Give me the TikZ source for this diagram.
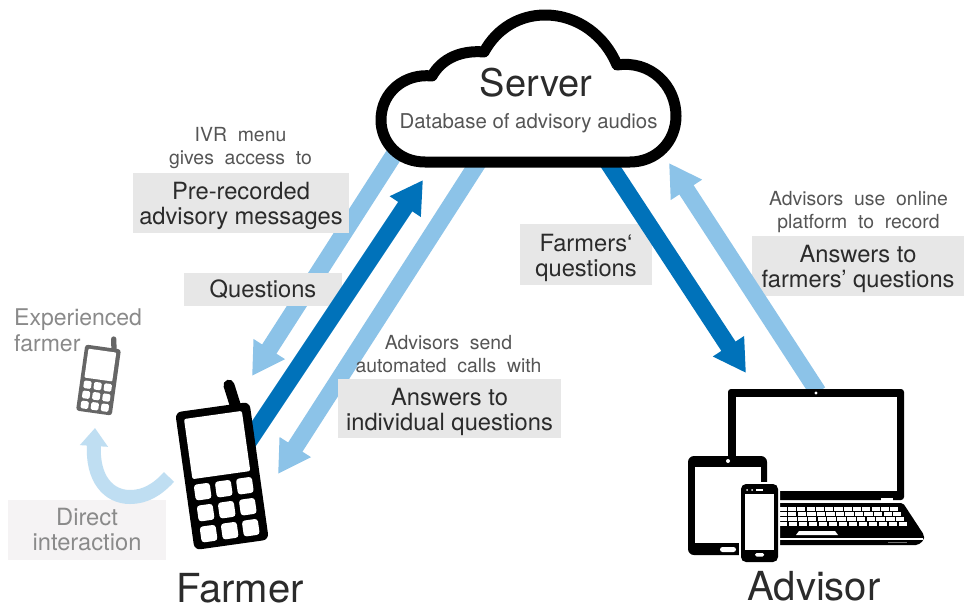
\documentclass[tikz,border=0pt]{standalone}
\usepackage{fontspec}
\setmainfont{TeX Gyre Heros}
\newfontfamily\spaced[WordSpace=2]{TeX Gyre Heros}
\usetikzlibrary{arrows.meta}
\definecolor{lightblue}{HTML}{8CC3E8}
\definecolor{darkblue}{HTML}{0072BA}
\definecolor{paleblue}{HTML}{BFDEF2}
\definecolor{boxgray}{HTML}{E7E7E7}
\definecolor{paleboxgray}{HTML}{F5F3F4}
\definecolor{txtdark}{HTML}{2B2B2B}
\definecolor{txtmid}{HTML}{555555}
\definecolor{txtpale}{HTML}{8A8A8A}
\tikzset{
  x=1pt,y=-1pt,
  flowlight/.style={line width=17pt,lightblue,-{Triangle[length=32pt,width=35pt]}},
  flowdark/.style={line width=17pt,darkblue,-{Triangle[length=32pt,width=35pt]}},
  graybox/.style={fill=boxgray,inner sep=0pt,align=center,text=txtdark,font=\fontsize{23.7}{25}\selectfont},
  smalltext/.style={inner sep=0pt,align=center,text=txtmid,font=\spaced\fontsize{19.4}{23}\selectfont},
  bigtext/.style={inner sep=0pt,text=txtdark,font=\fontsize{40}{44}\selectfont},
}
\newcommand{\lowerline}{\rule{0pt}{24pt}}
% centre x, centre y, rotation, scale, colour
\newcommand{\handset}[5]{%
  \begin{scope}[shift={(#1,#2)},rotate=#3,scale=#4]
    \draw[#5,line width=#4*11pt,line cap=round] (19.5,-89) -- (24,-62);
    \fill[#5,rounded corners=#4*6pt] (-37.5,-69.5) rectangle (37.5,69.5);
    \fill[white,rounded corners=#4*2pt] (-29.7,-61.7) rectangle (28.7,-1);
    \foreach \kx in {-21.3,0,21.3}
      \foreach \ky in {12.8,34,55.2}
        \fill[white,rounded corners=#4*3pt] (\kx-8,\ky-8) rectangle (\kx+8,\ky+8);
  \end{scope}}
\begin{document}
\begin{tikzpicture}
\useasboundingbox (0,0) rectangle (964,605);
\fill[white] (0,0) rectangle (964,605);

% connector ends
\coordinate (a1s) at (397,150);  \coordinate (a1e) at (252,376);
\coordinate (a2s) at (245,447);  \coordinate (a2e) at (423,180);
\coordinate (a3s) at (481,158);  \coordinate (a3e) at (278,474);
\coordinate (a4s) at (605,158);  \coordinate (a4e) at (746,373);
\coordinate (a5s) at (818,392);  \coordinate (a5e) at (669,163);
\coordinate (a6s) at (169,477);  \coordinate (a6e) at (95,428);

\draw[flowlight] (a1s) -- (a1e);
\draw[flowlight] (a3s) -- (a3e);

% grey boxes
\node[graybox,minimum width=216pt,minimum height=60pt] (prerec) at (241,203) {\lowerline Pre-recorded\\advisory messages};
\node[graybox,minimum width=158pt,minimum height=33pt] (quest) at (263,289.5) {Questions};
\node[graybox,minimum width=223pt,minimum height=59pt] (indiv) at (449.5,408.5) {\lowerline Answers to\\individual questions};
\node[graybox,minimum width=132pt,minimum height=61pt] (farmq) at (586,254.5) {\lowerline Farmers‘\\questions};
\node[graybox,minimum width=212pt,minimum height=60pt] (ansf) at (858,266) {\lowerline Answers to\\farmers’ questions};
\node[fill=paleboxgray,inner sep=0pt,align=center,text=txtpale,minimum width=158pt,minimum height=60pt,font=\fontsize{23.7}{25}\selectfont] (direct) at (87,530) {Direct\\interaction};

\draw[flowdark] (a2s) -- (a2e);
\draw[flowdark] (a4s) -- (a4e);
\draw[flowlight] (a5s) -- (a5e);
\draw[paleblue,line width=14pt,-{Triangle[length=18pt,width=27pt]}]
  (a6s) .. controls (157,490) and (145,497) .. (130,497)
  .. controls (108,497) and (92,478) .. (a6e);

% cloud
\draw[black,fill=white,line width=11pt,line join=round]
  (425,162) .. controls (398,162) and (381,142) .. (381,120)
  .. controls (381,92) and (405,73) .. (432,76)
  .. controls (442,58) and (462,50) .. (484,52)
  .. controls (497,28) and (520,15) .. (545,15)
  .. controls (578,15) and (605,36) .. (617,65)
  .. controls (650,60) and (676,85) .. (676,116)
  .. controls (676,142) and (656,162) .. (630,162)
  -- cycle;
\node[inner sep=0pt,text=txtdark,font=\fontsize{38}{42}\selectfont] (server) at (536,83) {Server};
\node[inner sep=0pt,text=txtmid,font=\fontsize{20.4}{24}\selectfont] (db) at (528.5,123) {Database of advisory audios};

% small captions
\node[smalltext] (ivr) at (240.5,148) {IVR menu\\gives access to};
\node[smalltext] (send) at (448.5,354) {Advisors send\\automated calls with};
\node[smalltext] (online) at (858.5,212) {Advisors use online\\platform to record};
\node[inner sep=0pt,anchor=north west,align=left,text=txtpale,font=\fontsize{23}{26}\selectfont] (exp) at (14,309) {Experienced\\farmer};

% phones
\handset{222}{476}{8}{1}{black}
\handset{98.5}{380}{-8}{0.48}{black!60}
\node[bigtext] (farmer) at (240,588) {Farmer};
\node[bigtext] (advisor) at (814,586) {Advisor};

% laptop
\fill[black,rounded corners=3pt] (728,389) rectangle (904,500);
\fill[white] (736,397) rectangle (897,491);
\fill[white] (816,393) circle (1.6pt);
\fill[black,rounded corners=2pt] (770,503) -- (903,503) -- (924,535) -- (924,540) -- (918,545) -- (770,545) -- cycle;
\fill[white] (881,498) rectangle (893,503);
\fill[white] (770,501) rectangle (904,503);
\foreach \row/\yy/\xe in {0/507/899,1/512/902,2/517/905,3/522/908}
  \foreach \k in {0,...,12}
    \fill[white] ({778+\k*(\xe-778)/13+0.6},\yy) rectangle ({778+(\k+1)*(\xe-778)/13-0.6},\yy+3.6);
\fill[white] (799,531) -- (835,531) -- (838,535) -- (796,535) -- cycle;
\fill[white] (770,538) rectangle (923,540);
\fill[black!55] (888,541.5) rectangle (907,543);
% tablet
\fill[black,rounded corners=6pt] (688,456) rectangle (767,555);
\fill[white] (695,467) rectangle (761,543);
\fill[white] (728,461) circle (2pt);
\fill[white,rounded corners=2.5pt] (720,547) rectangle (736,552);
% small phone
\fill[white,rounded corners=6pt] (739,482) rectangle (780,564);
\fill[black,rounded corners=5pt] (741,484) rectangle (778,562);
\fill[white] (744.5,494) rectangle (774,550);
\fill[white] (747,490) circle (1pt);
\fill[white] (752,490) circle (1pt);
\fill[white] (756,489.3) rectangle (763,490.7);
\fill[white,rounded corners=1.5pt] (755,553) rectangle (764,556.5);
\end{tikzpicture}
\end{document}
